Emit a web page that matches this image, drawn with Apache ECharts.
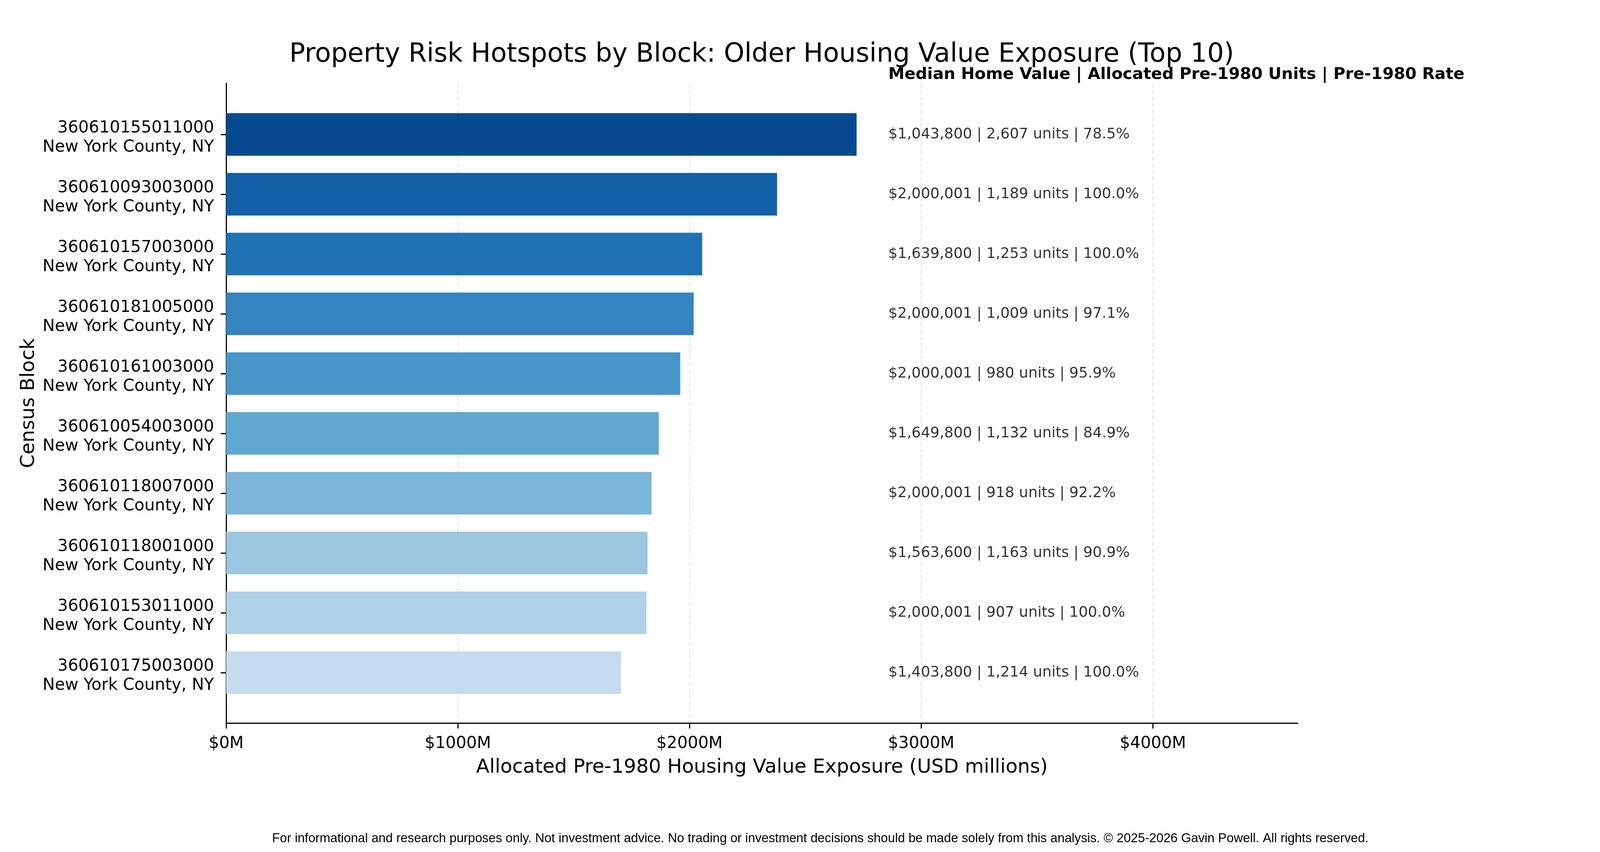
<!DOCTYPE html>
<html>
<head>
<meta charset="utf-8">
<title>Property Risk Hotspots by Block</title>
<script src="https://cdn.jsdelivr.net/npm/echarts@6/dist/echarts.min.js"></script>
<style>
  html, body { margin: 0; padding: 0; background: #fff; }
  #chart { width: 4200px; height: 2180px; }
</style>
</head>
<body>
<div id="chart"></div>
<script>
// top 10 census blocks, ordered by exposure
var blocks = ['360610155011000', '360610093003000', '360610157003000', '360610181005000', '360610161003000',
              '360610054003000', '360610118007000', '360610118001000', '360610153011000', '360610175003000'];
var county = 'New York County, NY';
var exposure = [2721.2, 2378.0, 2054.7, 2018.0, 1960.0, 1867.6, 1836.0, 1818.5, 1814.0, 1704.2]; // USD millions
var medianValue = [1043800, 2000001, 1639800, 2000001, 2000001, 1649800, 2000001, 1563600, 2000001, 1403800];
var units = [2607, 1189, 1253, 1009, 980, 1132, 918, 1163, 907, 1214];
var rate = [78.5, 100.0, 100.0, 97.1, 95.9, 84.9, 92.2, 90.9, 100.0, 100.0];
var barColors = ['#084a91', '#135fa7', '#2171b5', '#3484bf', '#4896c8',
                 '#60a7d2', '#7ab6d9', '#9bc7e0', '#b0d2e8', '#c6dbef'];

var xMax = 4625;
var noteX = 2857;
var font = 'DejaVu Sans';

function fmt(n) {
    return n.toString().replace(/\B(?=(\d{3})+(?!\d))/g, ',');
}

var catLabels = blocks.map(function (b) { return b + '\n' + county; });

var notes = blocks.map(function (b, i) {
    return {
        value: [noteX, i],
        label: '$' + fmt(medianValue[i]) + ' | ' + fmt(units[i]) + ' units | ' + rate[i].toFixed(1) + '%'
    };
});

var option = {
    backgroundColor: '#ffffff',
    animation: false,
    title: {
        text: 'Property Risk Hotspots by Block: Older Housing Value Exposure (Top 10)',
        left: 1950,
        top: 107,
        textAlign: 'center',
        padding: 0,
        textStyle: { fontFamily: font, fontSize: 67, fontWeight: 'normal', color: '#000' }
    },
    graphic: [
        {
            type: 'text',
            x: 2274,
            y: 191,
            style: {
                text: 'Median Home Value | Allocated Pre-1980 Units | Pre-1980 Rate',
                font: 'bold 41.7px "DejaVu Sans"',
                fill: '#000',
                verticalAlign: 'middle'
            }
        },
        {
            type: 'text',
            x: 2100,
            y: 2146,
            style: {
                text: 'For informational and research purposes only. Not investment advice. No trading or investment decisions should be made solely from this analysis. \u00a9 2025-2026 Gavin Powell. All rights reserved.',
                font: '32.7px "Liberation Sans"',
                fill: '#000',
                align: 'center',
                verticalAlign: 'middle'
            }
        }
    ],
    grid: [
        { left: 579, right: 878, top: 213, bottom: 330 },
        { left: 579, right: 878, top: 267.5, bottom: 382.5 }
    ],
    xAxis: [
        {
            type: 'value',
            gridIndex: 0,
            min: 0,
            max: xMax,
            interval: 1000,
            name: 'Allocated Pre-1980 Housing Value Exposure (USD millions)',
            nameLocation: 'middle',
            nameGap: 89,
            nameTextStyle: { fontFamily: font, fontSize: 50, color: '#000' },
            axisLine: { show: true, lineStyle: { color: '#000', width: 3 } },
            axisTick: { show: true, length: 14, lineStyle: { color: '#000', width: 3 } },
            axisLabel: {
                fontFamily: font, fontSize: 42, color: '#000', margin: 32,
                showMaxLabel: false,
                formatter: function (v) { return v % 1000 === 0 ? '$' + v + 'M' : ''; }
            },
            splitLine: {
                show: true,
                showMaxLine: false,
                lineStyle: { color: '#e8e8e8', width: 3, type: [11, 6] }
            }
        },
        {
            type: 'value',
            gridIndex: 1,
            min: 0,
            max: xMax,
            show: false
        }
    ],
    yAxis: [
        {
            type: 'value',
            gridIndex: 0,
            min: 0,
            max: 1,
            name: 'Census Block',
            nameLocation: 'middle',
            nameGap: 480,
            nameTextStyle: { fontFamily: font, fontSize: 50, color: '#000' },
            axisLine: { show: true, lineStyle: { color: '#000', width: 3 } },
            axisTick: { show: false },
            axisLabel: { show: false },
            splitLine: { show: false }
        },
        {
            type: 'category',
            gridIndex: 1,
            inverse: true,
            data: catLabels,
            axisLine: { show: false },
            axisTick: { show: true, alignWithLabel: true, length: 14, lineStyle: { color: '#000', width: 3 } },
            axisLabel: {
                color: '#000',
                margin: 31,
                // small empty first line nudges the two-line label down a little
                formatter: function (v) {
                    var parts = v.split('\n');
                    return '{s| }\n{a|' + parts[0] + '}\n{a|' + parts[1] + '}';
                },
                rich: {
                    s: { fontFamily: font, fontSize: 10, lineHeight: 17 },
                    a: { fontFamily: font, fontSize: 42, lineHeight: 49, color: '#000', align: 'right' }
                }
            },
            splitLine: { show: false }
        }
    ],
    series: [
        {
            type: 'bar',
            xAxisIndex: 1,
            yAxisIndex: 1,
            barWidth: 109,
            data: exposure.map(function (v, i) {
                return { value: v, itemStyle: { color: barColors[i] } };
            })
        },
        {
            type: 'scatter',
            xAxisIndex: 1,
            yAxisIndex: 1,
            symbolSize: 1,
            itemStyle: { color: 'rgba(0,0,0,0)' },
            data: notes.map(function (n) { return n.value; }),
            label: {
                show: true,
                position: 'right',
                distance: 0,
                fontFamily: font,
                fontSize: 37.5,
                color: '#000',
                formatter: function (p) { return notes[p.dataIndex].label; }
            }
        }
    ]
};

var myChart = echarts.init(document.getElementById('chart'));
myChart.setOption(option);
</script>
</body>
</html>
